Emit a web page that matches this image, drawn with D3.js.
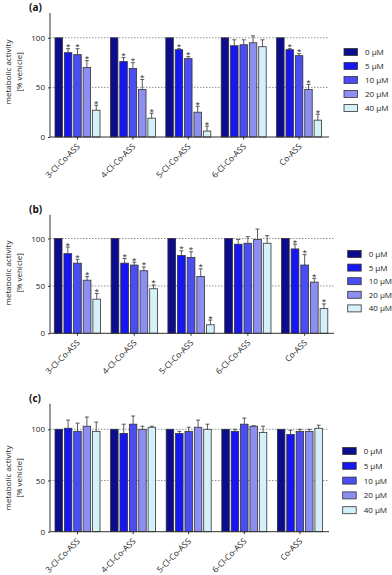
<!DOCTYPE html>
<html>
<head>
<meta charset="utf-8">
<script src="https://cdn.jsdelivr.net/npm/d3@7"></script>
<style>
body { margin:0; background:#fff; }
svg { display:block; font-family:"Open Sans", "Liberation Sans", sans-serif; }
</style>
</head>
<body>
<script>
// categories and doses
var categories = ["3-Cl-Co-ASS", "4-Cl-Co-ASS", "5-Cl-Co-ASS", "6-Cl-Co-ASS", "Co-ASS"];
var doses = ["0 µM", "5 µM", "10 µM", "20 µM", "40 µM"];
var colors = ["#0c0c8e", "#1616f2", "#4a4ef0", "#8c8ef2", "#d4f0f8"];
var yTicks = [0, 50, 100];

// panel (a)
var aMeans = [[100, 85, 83, 70, 27], [100, 76, 69, 48, 19], [100, 88, 79, 25, 6], [100, 92, 93, 95, 91], [100, 88, 82, 48, 17]];
var aErr = [[0, 4, 6, 7, 5], [0, 4, 6, 10, 5], [0, 1, 2, 6, 5], [0, 6, 5, 7, 7], [0, 1, 2, 5, 6]];
var aSig = [[0, 1, 1, 1, 1], [0, 1, 1, 1, 1], [0, 1, 1, 1, 1], [0, 0, 0, 0, 0], [0, 1, 1, 1, 1]];

// panel (b)
var bMeans = [[100, 84, 74, 56, 36], [100, 74, 72, 66, 47], [100, 82, 80, 60, 9], [100, 94, 95, 99, 95], [100, 89, 72, 54, 26]];
var bErr = [[0, 7, 4, 4, 6], [0, 5, 3, 4, 4], [0, 5, 6, 8, 5], [0, 5, 7, 11, 8], [0, 5, 11, 4, 5]];
var bSig = [[0, 1, 1, 1, 1], [0, 1, 1, 1, 1], [0, 1, 1, 1, 1], [0, 0, 0, 0, 0], [0, 1, 1, 1, 1]];

// panel (c)
var cMeans = [[100, 101, 98, 103, 98], [100, 96, 105, 100, 102], [100, 96, 98, 102, 100], [100, 98, 105, 103, 97], [100, 95, 98, 98, 101]];
var cErr = [[0, 8, 8, 9, 9], [0, 9, 8, 3, 1], [0, 2, 4, 7, 5], [0, 2, 6, 0.5, 6], [0, 4, 2, 2, 3]];
var cSig = [[0, 0, 0, 0, 0], [0, 0, 0, 0, 0], [0, 0, 0, 0, 0], [0, 0, 0, 0, 0], [0, 0, 0, 0, 0]];

var svg = d3.select("body").append("svg").attr("width", 392).attr("height", 575);

function drawPanel(label, means, errs, sig, g){
	var p = svg.append("g");

	var y = d3.scaleLinear().domain([0, 125]).range([g.y0, g.yTop]);
	var pi = 1 - g.bandW / g.step;
	var x = d3.scaleBand().domain(categories)
		.range([g.xFirst, g.xFirst + g.step * (categories.length - pi)])
		.paddingInner(pi).paddingOuter(0);
	var xi = d3.scaleBand().domain(doses).range([0, x.bandwidth()]).paddingInner(0.2).paddingOuter(0);

	// grid lines
	p.selectAll("line.grid").data([50, 100]).enter().append("line")
		.attr("x1", g.axisX).attr("x2", g.axisEnd)
		.attr("y1", function(d){ return y(d); }).attr("y2", function(d){ return y(d); })
		.attr("stroke", "#777").attr("stroke-width", 0.8).attr("stroke-dasharray", "1.5,1.5");

	// bars
	var rows = [];
	categories.forEach(function(c, i){
		doses.forEach(function(d, j){
			rows.push({cat: c, dose: d, j: j, v: means[i][j], e: errs[i][j], s: sig[i][j]});
		});
	});
	var gx = function(d){ return x(d.cat) + xi(d.dose); };
	p.selectAll("rect.bar").data(rows).enter().append("rect")
		.attr("x", gx).attr("y", function(d){ return y(d.v); })
		.attr("width", xi.bandwidth()).attr("height", function(d){ return y(0) - y(d.v); })
		.attr("fill", function(d){ return colors[d.j]; })
		.attr("stroke", "#333").attr("stroke-width", 0.8);

	// error bars
	var eb = rows.filter(function(d){ return d.e > 0; });
	p.selectAll("line.err").data(eb).enter().append("line")
		.attr("x1", function(d){ return gx(d) + xi.bandwidth() / 2; })
		.attr("x2", function(d){ return gx(d) + xi.bandwidth() / 2; })
		.attr("y1", function(d){ return y(d.v); }).attr("y2", function(d){ return y(d.v + d.e); })
		.attr("stroke", "#333").attr("stroke-width", 0.8);
	p.selectAll("line.cap").data(eb).enter().append("line")
		.attr("x1", function(d){ return gx(d) + xi.bandwidth() / 2 - 2; })
		.attr("x2", function(d){ return gx(d) + xi.bandwidth() / 2 + 2; })
		.attr("y1", function(d){ return y(d.v + d.e); }).attr("y2", function(d){ return y(d.v + d.e); })
		.attr("stroke", "#333").attr("stroke-width", 0.8);

	// significance stars
	p.selectAll("text.star").data(rows.filter(function(d){ return d.s; })).enter().append("text")
		.attr("x", function(d){ return gx(d) + xi.bandwidth() / 2; })
		.attr("y", function(d){ return y(d.v + d.e) + 0.5; })
		.attr("text-anchor", "middle").attr("font-size", 8).attr("fill", "#222")
		.text("*");

	// y axis
	var ya = d3.axisLeft(y).tickValues(yTicks).tickSize(2).tickPadding(3);
	var yg = p.append("g").attr("transform", "translate(" + g.axisX + ",0)").call(ya);
	yg.select(".domain").attr("d", "M0," + g.yTop + "V" + g.y0).attr("stroke", "#333");
	yg.selectAll(".tick line").attr("stroke", "#333");
	yg.selectAll(".tick text").attr("font-size", 8).attr("fill", "#222")
		.attr("font-family", "Open Sans, sans-serif");

	// x axis
	var xa = d3.axisBottom(x).tickSize(2.5).tickFormat("");
	var xg = p.append("g").attr("transform", "translate(0," + g.y0 + ")").call(xa);
	xg.select(".domain").attr("d", "M" + g.axisX + ",0H" + g.axisEnd).attr("stroke", "#333");
	xg.selectAll(".tick line").attr("stroke", "#333");
	p.selectAll("text.cat").data(categories).enter().append("text")
		.attr("transform", function(d){ return "translate(" + (x(d) + x.bandwidth() / 2 + 3) + "," + (g.y0 + 10) + ") rotate(-45)"; })
		.attr("text-anchor", "end").attr("font-size", 8.3).attr("fill", "#222")
		.text(function(d){ return d; });

	// y label
	var ly = g.labelY;
	p.append("text").attr("transform", "translate(11," + ly + ") rotate(-90)")
		.attr("text-anchor", "middle").attr("font-size", 8).attr("fill", "#222").text("metabolic activity");
	p.append("text").attr("transform", "translate(22," + ly + ") rotate(-90)")
		.attr("text-anchor", "middle").attr("font-size", 8).attr("fill", "#222").text("[% vehicle]");

	// panel label
	p.append("text").attr("x", 29).attr("y", g.yTop - 2)
		.attr("font-size", 10).attr("font-weight", "bold").attr("fill", "#111").text(label);

	// legend
	var lg = p.selectAll("g.leg").data(doses).enter().append("g")
		.attr("transform", function(d, i){ return "translate(" + g.legX + "," + (g.legY + i * g.legStep) + ")"; });
	lg.append("rect").attr("x", 0).attr("y", -3.5).attr("width", 13.5).attr("height", 7)
		.attr("fill", function(d, i){ return colors[i]; }).attr("stroke", "#333").attr("stroke-width", 0.8);
	lg.append("text").attr("x", 21).attr("y", 3).attr("font-size", 8).attr("fill", "#222")
		.text(function(d){ return d; });
}

drawPanel("(a)", aMeans, aErr, aSig, {y0: 137, yTop: 13, xFirst: 55, step: 55.4, bandW: 45, axisX: 50, axisEnd: 329, labelY: 72, legX: 344, legY: 52, legStep: 14});
drawPanel("(b)", bMeans, bErr, bSig, {y0: 333.3, yTop: 214.8, xFirst: 54.3, step: 56.8, bandW: 46.3, axisX: 50, axisEnd: 334, labelY: 273, legX: 347.7, legY: 254, legStep: 13.6});
drawPanel("(c)", cMeans, cErr, cSig, {y0: 531.7, yTop: 403.7, xFirst: 55, step: 55.6, bandW: 45, axisX: 50, axisEnd: 329, labelY: 478, legX: 342.7, legY: 451, legStep: 14.8});
</script>
</body>
</html>
